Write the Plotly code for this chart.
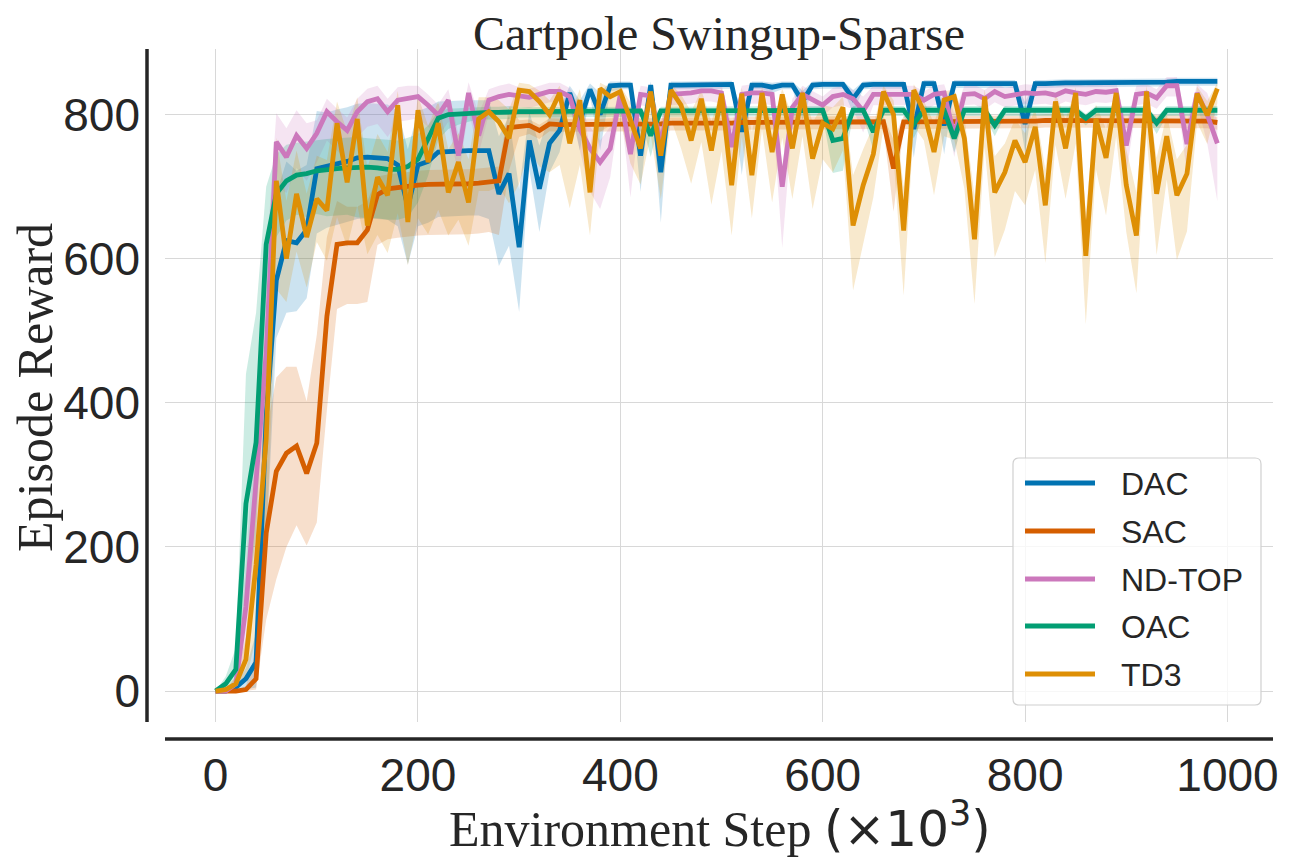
import plotly.graph_objects as go

# environment steps (x10^3)
steps = list(range(0, 1000, 10))

dac_mean = [0, 0, 5, 17, 40, 380, 570, 625, 622, 640,
            725, 728, 732, 735, 740, 741, 740, 739, 730, 672,
            730, 735, 748, 749, 750, 750, 750, 750, 690, 718,
            616, 764, 697, 760, 778, 830, 790, 835, 800, 840,
            841, 841, 743, 841, 720, 841, 841, 841, 842, 842,
            842, 842, 776, 841, 841, 838, 841, 841, 818, 841,
            842, 842, 842, 822, 841, 842, 842, 842, 842, 780,
            843, 843, 785, 843, 843, 843, 843, 843, 843, 843,
            787, 843, 843, 844, 844, 844, 844, 844, 844, 845,
            845, 845, 845, 845, 845, 846, 846, 846, 846, 846]
dac_lo = [0, 0, 5, 15, 35, 180, 80, 100, 95, 95,
          90, 85, 85, 85, 85, 85, 85, 85, 85, 80,
          85, 85, 90, 90, 90, 90, 90, 95, 100, 100,
          90, 40, 60, 40, 30, 15, 40, 10, 50, 8,
          6, 6, 50, 6, 70, 6, 6, 6, 6, 6,
          6, 6, 60, 6, 6, 8, 6, 6, 25, 6,
          6, 6, 6, 20, 6, 6, 6, 6, 6, 40,
          6, 6, 40, 6, 6, 6, 6, 6, 6, 6,
          40, 6, 6, 6, 6, 6, 6, 6, 6, 6,
          6, 6, 6, 6, 6, 6, 6, 6, 6, 6]
dac_hi = [0, 0, 5, 15, 40, 150, 120, 110, 100, 90,
          80, 75, 75, 75, 75, 75, 75, 75, 75, 80,
          75, 75, 70, 70, 70, 70, 70, 70, 80, 80,
          80, 40, 60, 40, 30, 10, 30, 8, 30, 6,
          5, 5, 40, 5, 40, 5, 5, 5, 5, 5,
          5, 5, 30, 5, 5, 6, 5, 5, 15, 5,
          5, 5, 5, 12, 5, 5, 5, 5, 5, 35,
          5, 5, 30, 5, 5, 5, 5, 5, 5, 5,
          30, 5, 5, 5, 5, 5, 5, 5, 5, 5,
          5, 5, 5, 5, 5, 5, 5, 5, 5, 5]

sac_mean = [0, 0, 0, 2, 17, 219, 305, 330, 340, 302,
            344, 520, 620, 622, 622, 640, 689, 697, 699, 701,
            702, 703, 703, 704, 704, 704, 705, 707, 708, 782,
            784, 785, 778, 787, 786, 786, 787, 786, 786, 787,
            787, 786, 787, 787, 787, 788, 788, 788, 787, 788,
            788, 788, 789, 789, 789, 789, 789, 790, 789, 789,
            790, 790, 790, 790, 790, 790, 790, 725, 790, 790,
            790, 791, 791, 791, 791, 790, 791, 791, 791, 791,
            791, 791, 792, 792, 792, 792, 792, 792, 792, 792,
            792, 792, 792, 792, 792, 792, 792, 792, 791, 789]
sac_lo = [0, 0, 0, 2, 15, 120, 150, 130, 110, 100,
          110, 130, 90, 85, 85, 100, 70, 70, 70, 70,
          70, 70, 70, 70, 70, 70, 70, 70, 75, 60,
          15, 12, 12, 10, 10, 10, 10, 10, 10, 10,
          10, 10, 10, 10, 10, 10, 10, 10, 10, 10,
          10, 10, 10, 10, 10, 10, 10, 10, 10, 10,
          10, 10, 10, 10, 10, 10, 10, 60, 10, 10,
          10, 10, 10, 10, 10, 10, 10, 10, 10, 10,
          10, 10, 10, 10, 10, 10, 10, 10, 10, 10,
          10, 10, 10, 10, 10, 10, 10, 10, 10, 10]
sac_hi = [0, 0, 0, 5, 40, 140, 130, 120, 110, 100,
          150, 110, 60, 50, 50, 40, 25, 20, 20, 20,
          20, 20, 20, 20, 20, 20, 20, 20, 20, 30,
          8, 8, 8, 8, 8, 8, 8, 8, 8, 8,
          8, 8, 8, 8, 8, 8, 8, 8, 8, 8,
          8, 8, 8, 8, 8, 8, 8, 8, 8, 8,
          8, 8, 8, 8, 8, 8, 8, 40, 8, 8,
          8, 8, 8, 8, 8, 8, 8, 8, 8, 8,
          8, 8, 8, 8, 8, 8, 8, 8, 8, 8,
          8, 8, 8, 8, 8, 8, 8, 8, 8, 8]

ndtop_mean = [0, 0, 10, 117, 292, 470, 762, 741, 771, 753,
              774, 804, 790, 778, 804, 818, 822, 804, 820, 822,
              825, 813, 799, 820, 743, 830, 771, 820, 825, 828,
              826, 824, 828, 832, 832, 825, 780, 753, 734, 753,
              828, 745, 828, 826, 760, 828, 829, 830, 833, 833,
              830, 755, 828, 830, 830, 828, 700, 810, 828, 820,
              813, 825, 828, 822, 805, 828, 828, 828, 828, 828,
              820, 828, 830, 771, 828, 829, 822, 832, 825, 827,
              830, 829, 830, 827, 833, 830, 828, 832, 831, 833,
              757, 828, 830, 823, 840, 840, 759, 830, 800, 760]
ndtop_lo = [0, 0, 10, 60, 100, 120, 60, 50, 45, 45,
            40, 40, 40, 40, 35, 35, 35, 35, 30, 30,
            30, 30, 30, 30, 30, 25, 25, 20, 20, 20,
            15, 15, 15, 15, 15, 15, 30, 60, 65, 40,
            15, 60, 15, 15, 40, 15, 15, 15, 15, 15,
            15, 40, 15, 15, 15, 15, 85, 20, 15, 15,
            15, 15, 15, 15, 30, 15, 15, 15, 15, 15,
            15, 15, 15, 30, 15, 15, 15, 15, 15, 15,
            15, 15, 15, 15, 15, 15, 15, 15, 15, 15,
            40, 15, 15, 15, 15, 15, 40, 15, 40, 80]
ndtop_hi = [0, 0, 10, 60, 100, 120, 40, 40, 35, 35,
            18, 18, 18, 18, 18, 18, 18, 18, 18, 18,
            15, 15, 15, 15, 30, 15, 30, 15, 15, 15,
            12, 12, 12, 12, 12, 12, 30, 30, 30, 30,
            12, 30, 12, 12, 30, 12, 12, 12, 12, 12,
            12, 30, 12, 12, 12, 12, 30, 12, 12, 12,
            12, 12, 12, 12, 20, 12, 12, 12, 12, 12,
            12, 12, 12, 30, 12, 12, 12, 12, 12, 12,
            12, 12, 12, 12, 12, 12, 12, 12, 12, 12,
            30, 12, 12, 12, 12, 12, 30, 12, 30, 30]

oac_mean = [0, 10, 30, 260, 345, 620, 690, 708, 716, 718,
            722, 724, 725, 726, 727, 727, 726, 724, 724, 728,
            738, 765, 795, 800, 801, 802, 803, 803, 803, 804,
            804, 804, 804, 804, 804, 804, 805, 805, 805, 805,
            805, 805, 805, 771, 805, 805, 805, 805, 805, 805,
            805, 805, 805, 805, 805, 805, 805, 805, 805, 806,
            806, 764, 767, 806, 806, 776, 806, 806, 806, 787,
            806, 806, 806, 767, 806, 806, 806, 785, 806, 806,
            806, 806, 806, 806, 806, 806, 795, 806, 806, 806,
            806, 806, 806, 788, 806, 806, 806, 806, 806, 806]
oac_lo = [0, 10, 30, 150, 130, 80, 60, 55, 55, 60,
          60, 65, 65, 65, 70, 70, 70, 70, 70, 70,
          60, 50, 30, 20, 15, 12, 10, 10, 10, 10,
          8, 8, 8, 8, 8, 8, 8, 8, 8, 8,
          8, 8, 8, 30, 8, 8, 8, 8, 8, 8,
          8, 8, 8, 8, 8, 8, 8, 8, 8, 8,
          8, 45, 45, 8, 8, 25, 8, 8, 8, 20,
          8, 8, 8, 20, 8, 8, 8, 15, 8, 8,
          8, 8, 8, 8, 8, 8, 10, 8, 8, 8,
          8, 8, 8, 15, 8, 8, 8, 8, 8, 8]
oac_hi = [0, 10, 30, 180, 180, 80, 55, 50, 45, 45,
          42, 42, 42, 42, 42, 40, 40, 40, 40, 40,
          35, 20, 10, 8, 8, 8, 8, 8, 8, 8,
          6, 6, 6, 6, 6, 6, 6, 6, 6, 6,
          6, 6, 6, 15, 6, 6, 6, 6, 6, 6,
          6, 6, 6, 6, 6, 6, 6, 6, 6, 6,
          6, 20, 20, 6, 6, 12, 6, 6, 6, 10,
          6, 6, 6, 12, 6, 6, 6, 8, 6, 6,
          6, 6, 6, 6, 6, 6, 6, 6, 6, 6,
          6, 6, 6, 8, 6, 6, 6, 6, 6, 6]

td3_mean = [0, 2, 10, 44, 175, 350, 708, 600, 690, 630,
            683, 667, 788, 706, 794, 646, 713, 688, 813, 651,
            806, 734, 788, 692, 734, 678, 794, 804, 790, 767,
            834, 832, 818, 800, 830, 760, 820, 692, 836, 825,
            832, 792, 753, 832, 743, 834, 813, 764, 822, 750,
            829, 702, 829, 716, 830, 748, 828, 753, 830, 739,
            788, 780, 810, 646, 702, 745, 832, 800, 639, 834,
            804, 748, 820, 825, 767, 627, 825, 692, 720, 764,
            734, 783, 674, 818, 753, 830, 604, 794, 740, 830,
            702, 632, 832, 690, 770, 688, 718, 829, 799, 836]
td3_lo = [0, 2, 10, 30, 100, 150, 150, 60, 80, 70,
          60, 70, 130, 90, 120, 40, 80, 80, 150, 60,
          150, 100, 120, 60, 80, 60, 100, 110, 90, 90,
          130, 80, 90, 80, 100, 90, 90, 60, 60, 40,
          40, 60, 50, 60, 60, 40, 60, 60, 60, 75,
          80, 70, 60, 60, 50, 70, 60, 70, 60, 70,
          50, 60, 60, 90, 80, 60, 50, 60, 90, 50,
          40, 60, 50, 60, 70, 90, 70, 90, 80, 70,
          60, 60, 80, 60, 70, 70, 95, 70, 80, 60,
          65, 80, 60, 85, 60, 90, 80, 40, 40, 20]
td3_hi = [0, 2, 10, 30, 100, 150, 60, 80, 60, 60,
          60, 70, 30, 70, 30, 80, 60, 60, 20, 60,
          20, 50, 30, 60, 40, 60, 30, 20, 30, 40,
          10, 10, 15, 20, 10, 40, 15, 60, 8, 12,
          8, 25, 40, 8, 45, 8, 15, 40, 12, 40,
          8, 60, 8, 60, 8, 40, 8, 45, 8, 50,
          25, 30, 15, 70, 50, 40, 8, 20, 60, 8,
          15, 40, 12, 10, 30, 60, 10, 50, 40, 30,
          40, 25, 50, 12, 40, 8, 60, 20, 40, 8,
          50, 60, 8, 50, 30, 50, 40, 10, 20, 8]

series = [
    ("DAC", "#0173b2", dac_mean, dac_lo, dac_hi),
    ("SAC", "#d55e00", sac_mean, sac_lo, sac_hi),
    ("ND-TOP", "#cc78bc", ndtop_mean, ndtop_lo, ndtop_hi),
    ("OAC", "#029e73", oac_mean, oac_lo, oac_hi),
    ("TD3", "#de8f05", td3_mean, td3_lo, td3_hi),
]


def rgba(hex_color, a):
    h = hex_color.lstrip("#")
    return "rgba(%d,%d,%d,%s)" % (int(h[0:2], 16), int(h[2:4], 16), int(h[4:6], 16), a)


fig = go.Figure()

# shaded bands first
for name, col, m, lo, hi in series:
    lower = [v - d for v, d in zip(m, lo)]
    upper = [v + d for v, d in zip(m, hi)]
    fig.add_trace(go.Scatter(x=steps, y=lower, mode="lines", line=dict(width=0),
                             hoverinfo="skip", showlegend=False))
    fig.add_trace(go.Scatter(x=steps, y=upper, mode="lines", line=dict(width=0),
                             fill="tonexty", fillcolor=rgba(col, 0.2),
                             hoverinfo="skip", showlegend=False))

for name, col, m, lo, hi in series:
    fig.add_trace(go.Scatter(x=steps, y=m, mode="lines", name=name,
                             line=dict(color=col, width=4.8), showlegend=False))

# page has an 8px body margin; plot area on the page: x 165..1273, y 49..722
OFF = 8
L, R, T, B = 165, 1273, 49, 722
W, H = 1296 - OFF, 864 - OFF


def pxx(p):
    return (p - L) / (R - L)


def pxy(p):
    return (B - p) / (B - T)


dark = "#262626"
shapes = [
    dict(type="line", xref="paper", yref="paper", x0=pxx(147), x1=pxx(147), y0=0, y1=1,
         line=dict(color=dark, width=3.5)),
    dict(type="line", xref="paper", yref="paper", x0=0, x1=1, y0=pxy(739), y1=pxy(739),
         line=dict(color=dark, width=3.5)),
]

# legend box
bx0, bx1, by0, by1, r = 1013, 1261, 458, 705, 6
path = ("M %f,%f L %f,%f Q %f,%f %f,%f L %f,%f Q %f,%f %f,%f L %f,%f Q %f,%f %f,%f L %f,%f Q %f,%f %f,%f Z" % (
    pxx(bx0 + r), pxy(by0), pxx(bx1 - r), pxy(by0), pxx(bx1), pxy(by0), pxx(bx1), pxy(by0 + r),
    pxx(bx1), pxy(by1 - r), pxx(bx1), pxy(by1), pxx(bx1 - r), pxy(by1),
    pxx(bx0 + r), pxy(by1), pxx(bx0), pxy(by1), pxx(bx0), pxy(by1 - r),
    pxx(bx0), pxy(by0 + r), pxx(bx0), pxy(by0), pxx(bx0 + r), pxy(by0)))
shapes.append(dict(type="path", xref="paper", yref="paper", path=path,
                   fillcolor="rgba(255,255,255,0.8)", line=dict(color="#d0d0d0", width=1.2)))

annotations = []
legend_y = [483, 531, 579, 626, 674]
for (name, col, m, lo, hi), ly in zip(series, legend_y):
    shapes.append(dict(type="line", xref="paper", yref="paper",
                       x0=pxx(1025), x1=pxx(1095), y0=pxy(ly), y1=pxy(ly),
                       line=dict(color=col, width=4.8)))
    annotations.append(dict(text=name, xref="paper", yref="paper", x=pxx(1119), y=pxy(ly + 1),
                            xanchor="left", yanchor="middle", showarrow=False,
                            font=dict(family="Liberation Sans", size=32, color=dark)))

annotations.append(dict(text="Episode Reward", xref="paper", yref="paper",
                        x=pxx(35), y=pxy(388), textangle=-90, showarrow=False,
                        xanchor="center", yanchor="middle",
                        font=dict(family="Liberation Serif", size=50, color=dark)))
annotations.append(dict(text="Environment Step <span style='font-family:DejaVu Sans'>(×10<sup>3</sup>)</span>",
                        xref="paper", yref="paper", x=pxx(720), y=pxy(826), showarrow=False,
                        xanchor="center", yanchor="middle",
                        font=dict(family="Liberation Serif", size=50, color=dark)))

fig.update_layout(
    width=W, height=H,
    margin=dict(l=L - OFF, r=1296 - R, t=T - OFF, b=864 - B),
    plot_bgcolor="white", paper_bgcolor="white",
    title=dict(text="Cartpole Swingup-Sparse", x=0.5, xref="paper", xanchor="center",
               y=1 - (33 - OFF) / H, yref="container", yanchor="middle",
               font=dict(family="Liberation Serif", size=48, color=dark)),
    shapes=shapes, annotations=annotations, showlegend=False,
)
fig.update_xaxes(range=[-50, 1045], tickvals=[0, 200, 400, 600, 800, 1000],
                 showgrid=True, gridcolor="#d8d8d8", gridwidth=1, zeroline=False,
                 showline=False, ticks="", ticklabelstandoff=22,
                 tickfont=dict(family="Liberation Sans", size=46, color=dark))
fig.update_yaxes(range=[-43, 891], tickvals=[0, 200, 400, 600, 800],
                 showgrid=True, gridcolor="#d8d8d8", gridwidth=1, zeroline=False,
                 showline=False, ticks="", ticklabelstandoff=24,
                 tickfont=dict(family="Liberation Sans", size=46, color=dark))

fig.write_html("out.html")
